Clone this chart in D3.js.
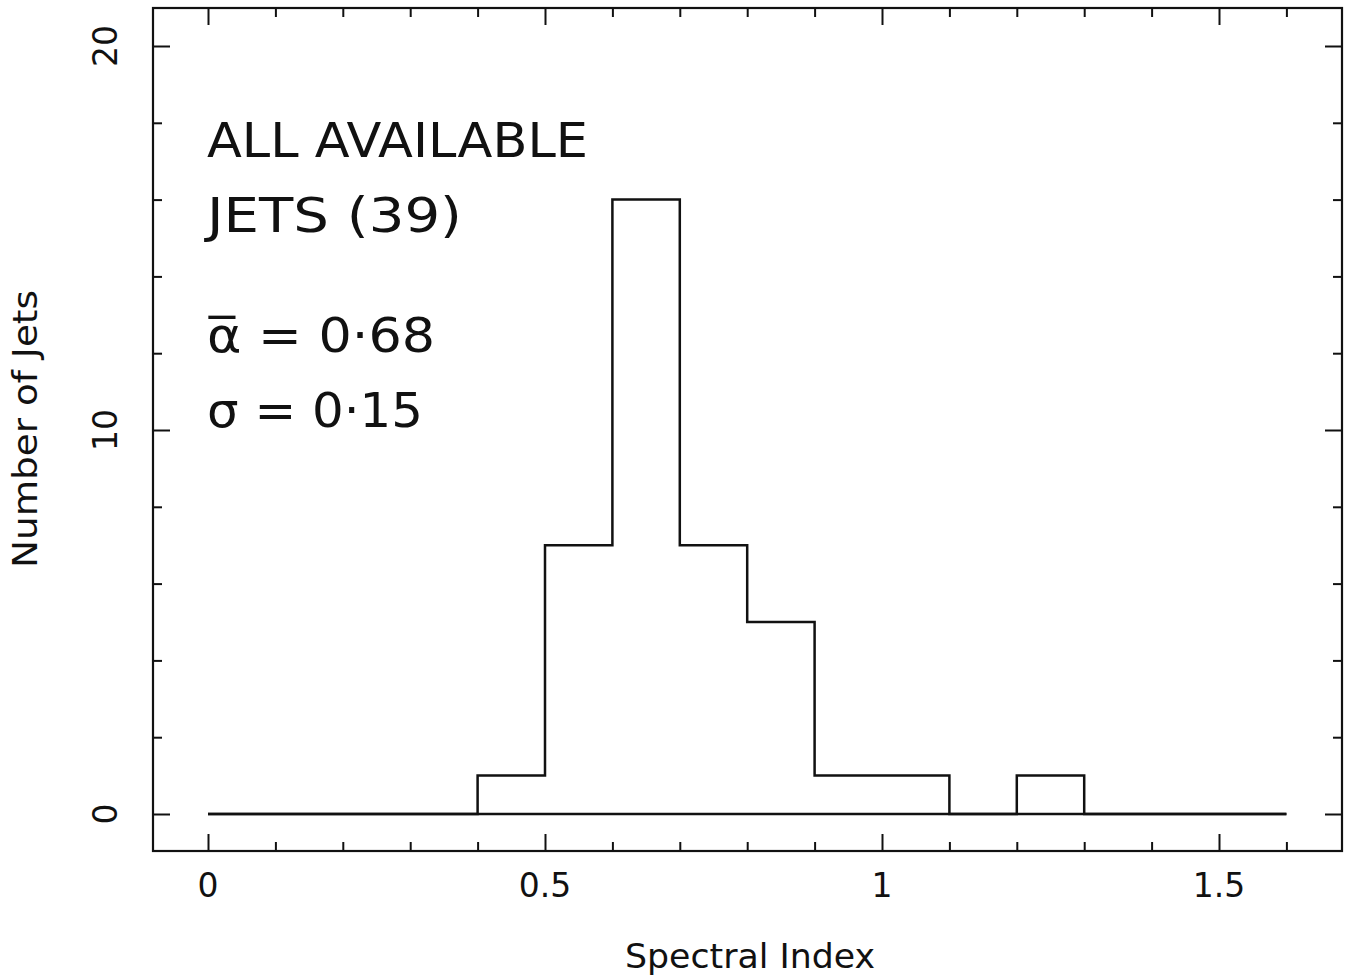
<!DOCTYPE html>
<html>
<head>
<meta charset="utf-8">
<script src="https://cdn.jsdelivr.net/npm/d3@7"></script>
<style>
  html, body { margin: 0; padding: 0; background: #fff; }
  svg { display: block; }
  text { fill: #111; }
</style>
</head>
<body>
<svg id="chart" width="1350" height="979"></svg>
<script>
// Histogram of spectral indices: bin edges and counts per bin
const binEdges = [0, 0.1, 0.2, 0.3, 0.4, 0.5, 0.6, 0.7, 0.8, 0.9, 1.0, 1.1, 1.2, 1.3, 1.4, 1.5, 1.6];
const counts   = [0, 0, 0, 0, 1, 7, 16, 7, 5, 1, 1, 0, 1, 0, 0, 0];

// Axis ticks
const xMajorTicks = [0, 0.5, 1, 1.5];
const xMinorTicks = [0.1, 0.2, 0.3, 0.4, 0.6, 0.7, 0.8, 0.9, 1.1, 1.2, 1.3, 1.4, 1.6];
const xTickLabels = ["0", "0.5", "1", "1.5"];
const yMajorTicks = [0, 10, 20];
const yMinorTicks = [2, 4, 6, 8, 12, 14, 16, 18];
const yTickLabels = ["0", "10", "20"];

// Annotation lines
const notes = ["ALL AVAILABLE", "JETS (39)", "\u03B1\u0305 = 0\u00B768", "\u03C3 = 0\u00B715"];

const svg = d3.select("#chart");
const frame = { left: 153, right: 1342, top: 8, bottom: 851 };

const x = d3.scaleLinear().domain([0, 1.5]).range([208, 1219]);
const y = d3.scaleLinear().domain([0, 20]).range([814, 46]);

const ink = "#111";

// Plot frame
svg.append("rect")
  .attr("x", frame.left).attr("y", frame.top)
  .attr("width", frame.right - frame.left).attr("height", frame.bottom - frame.top)
  .attr("fill", "none").attr("stroke", ink).attr("stroke-width", 2.2);

// Inward ticks on all four sides
function addTicks(g, axis) {
  g.call(axis);
  g.select(".domain").remove();
  g.selectAll(".tick line").attr("stroke", ink).attr("stroke-width", 2);
}
const majorLen = 17, minorLen = 9;
addTicks(svg.append("g").attr("transform", `translate(0,${frame.bottom})`),
  d3.axisBottom(x).tickValues(xMajorTicks).tickSize(-majorLen).tickFormat(""));
addTicks(svg.append("g").attr("transform", `translate(0,${frame.bottom})`),
  d3.axisBottom(x).tickValues(xMinorTicks).tickSize(-minorLen).tickFormat(""));
addTicks(svg.append("g").attr("transform", `translate(0,${frame.top})`),
  d3.axisTop(x).tickValues(xMajorTicks).tickSize(-majorLen).tickFormat(""));
addTicks(svg.append("g").attr("transform", `translate(0,${frame.top})`),
  d3.axisTop(x).tickValues(xMinorTicks).tickSize(-minorLen).tickFormat(""));
addTicks(svg.append("g").attr("transform", `translate(${frame.left},0)`),
  d3.axisLeft(y).tickValues(yMajorTicks).tickSize(-majorLen).tickFormat(""));
addTicks(svg.append("g").attr("transform", `translate(${frame.left},0)`),
  d3.axisLeft(y).tickValues(yMinorTicks).tickSize(-minorLen).tickFormat(""));
addTicks(svg.append("g").attr("transform", `translate(${frame.right},0)`),
  d3.axisRight(y).tickValues(yMajorTicks).tickSize(-majorLen).tickFormat(""));
addTicks(svg.append("g").attr("transform", `translate(${frame.right},0)`),
  d3.axisRight(y).tickValues(yMinorTicks).tickSize(-minorLen).tickFormat(""));

// Tick labels
const labelFont = "'DejaVu Sans', sans-serif";
svg.append("g").selectAll("text").data(xMajorTicks).join("text")
  .attr("x", d => x(d)).attr("y", 897)
  .attr("text-anchor", "middle")
  .attr("font-family", labelFont).attr("font-size", 33)
  .text((d, i) => xTickLabels[i]);

svg.append("g").selectAll("text").data(yMajorTicks).join("text")
  .attr("transform", d => `translate(117,${y(d)}) rotate(-90)`)
  .attr("text-anchor", "middle")
  .attr("font-family", labelFont).attr("font-size", 33)
  .text((d, i) => yTickLabels[i]);

// Axis titles
svg.append("text")
  .attr("x", 750).attr("y", 968)
  .attr("text-anchor", "middle")
  .attr("font-family", labelFont).attr("font-size", 34)
  .attr("textLength", 250).attr("lengthAdjust", "spacingAndGlyphs")
  .text("Spectral Index");

svg.append("text")
  .attr("transform", "translate(37,429) rotate(-90)")
  .attr("text-anchor", "middle")
  .attr("font-family", labelFont).attr("font-size", 34)
  .attr("textLength", 278).attr("lengthAdjust", "spacingAndGlyphs")
  .text("Number of Jets");

// Histogram: baseline plus stepped outline
const pts = binEdges.map((e, i) => [e, i < counts.length ? counts[i] : counts[counts.length - 1]]);
const step = d3.line().x(d => x(d[0])).y(d => y(d[1])).curve(d3.curveStepAfter);

svg.append("line")
  .attr("x1", x(binEdges[0])).attr("x2", x(binEdges[binEdges.length - 1]))
  .attr("y1", y(0)).attr("y2", y(0))
  .attr("stroke", ink).attr("stroke-width", 2.5);

svg.append("path")
  .attr("d", step(pts))
  .attr("fill", "none").attr("stroke", ink).attr("stroke-width", 2.5);

// Hand-written annotation
const noteFont = "'DejaVu Sans', sans-serif";
const noteY = [157, 232, 352, 427];
const noteW = [381, 255, 228, 216];
svg.append("g").selectAll("text").data(notes).join("text")
  .attr("x", 207).attr("y", (d, i) => noteY[i])
  .attr("font-family", noteFont).attr("font-size", 48)
  .attr("textLength", (d, i) => noteW[i]).attr("lengthAdjust", "spacingAndGlyphs")
  .text(d => d);
</script>
</body>
</html>
